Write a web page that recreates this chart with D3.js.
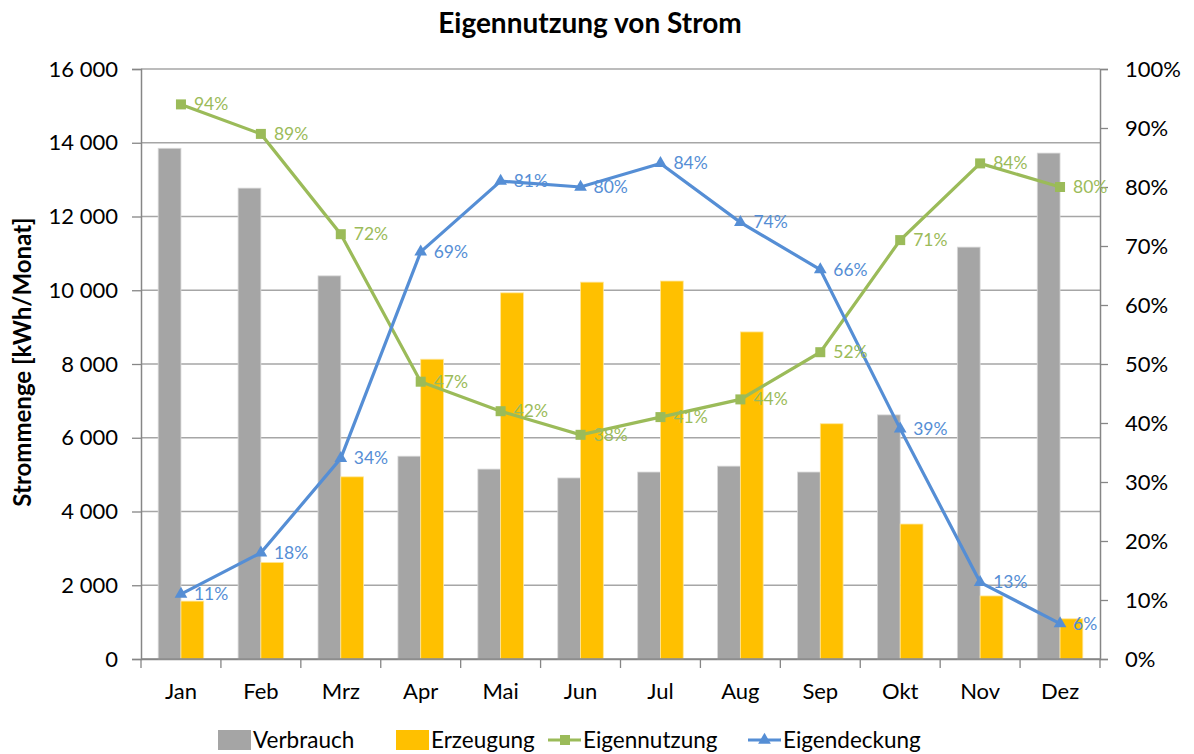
<!DOCTYPE html>
<html>
<head>
<meta charset="utf-8">
<script src="https://cdn.jsdelivr.net/npm/d3@7"></script>
<style>
  body { margin: 0; background: #fff; }
  svg { font-family: "Lato", "Open Sans", sans-serif; }
</style>
</head>
<body>
<svg id="chart" width="1194" height="754"></svg>
<script>
// chart data
var months = ["Jan", "Feb", "Mrz", "Apr", "Mai", "Jun", "Jul", "Aug", "Sep", "Okt", "Nov", "Dez"];
var verbrauch = [13850, 12770, 10390, 5500, 5150, 4910, 5070, 5230, 5070, 6620, 11170, 13720];
var erzeugung = [1570, 2620, 4940, 8130, 9930, 10220, 10250, 8870, 6380, 3660, 1710, 1090];
var eigennutzung = [94, 89, 72, 47, 42, 38, 41, 44, 52, 71, 84, 80];
var eigendeckung = [11, 18, 34, 69, 81, 80, 84, 74, 66, 39, 13, 6];
var leftTicks = [0, 2000, 4000, 6000, 8000, 10000, 12000, 14000, 16000];
var rightTicks = [0, 10, 20, 30, 40, 50, 60, 70, 80, 90, 100];

var colGrey = "#a5a5a5", colYellow = "#ffc000", colGreen = "#9bbb59", colBlue = "#558ed5";
var axisCol = "#868686";

var svg = d3.select("#chart");
var plotLeft = 141, plotRight = 1100, plotTop = 69, plotBottom = 659;

var x = d3.scaleBand().domain(months).range([plotLeft, plotRight]).padding(0);
var y = d3.scaleLinear().domain([0, 16000]).range([plotBottom, plotTop]);
var yp = d3.scaleLinear().domain([0, 100]).range([plotBottom, plotTop]);
var barW = x.bandwidth() * 0.285;

// title
svg.append("text").attr("x", 590).attr("y", 33).attr("text-anchor", "middle")
   .attr("font-size", 28).attr("font-weight", "bold").text("Eigennutzung von Strom");

// gridlines
svg.append("g").selectAll("line").data(leftTicks.slice(1)).enter().append("line")
   .attr("x1", plotLeft).attr("x2", plotRight)
   .attr("y1", d => y(d)).attr("y2", d => y(d))
   .attr("stroke", "#a6a6a6").attr("stroke-width", 1.3);

// left axis
var gL = svg.append("g").attr("transform", "translate(" + plotLeft + ",0)")
   .call(d3.axisLeft(y).tickValues(leftTicks).tickSize(9).tickPadding(14)
         .tickFormat(d => d3.format(",")(d).replace(",", " ")));
gL.selectAll("text").attr("font-size", 22).attr("fill", "#000");

// right axis
var gR = svg.append("g").attr("transform", "translate(" + plotRight + ",0)")
   .call(d3.axisRight(yp).tickValues(rightTicks).tickSize(8).tickPadding(17)
         .tickFormat(d => d + "%"));
gR.selectAll("text").attr("font-size", 22).attr("fill", "#000");

// bottom axis
var gB = svg.append("g").attr("transform", "translate(0," + plotBottom + ")")
   .call(d3.axisBottom(x).tickSize(0).tickPadding(24));
gB.selectAll("text").attr("font-size", 22).attr("fill", "#000");
gB.selectAll(".tick").append("line")
   .attr("x1", -x.bandwidth() / 2).attr("x2", -x.bandwidth() / 2)
   .attr("y1", 0).attr("y2", 9).attr("stroke", axisCol).attr("stroke-width", 1.3);
gB.append("line").attr("x1", plotRight).attr("x2", plotRight).attr("y1", 0).attr("y2", 9)
   .attr("stroke", axisCol).attr("stroke-width", 1.3);

[gL, gR, gB].forEach(function(g) {
    g.attr("font-family", null);
    g.select(".domain").attr("stroke", axisCol).attr("stroke-width", 1.5);
    g.selectAll(".tick line").attr("stroke", axisCol).attr("stroke-width", 1.3);
});

// bars
svg.append("g").selectAll("rect").data(verbrauch).enter().append("rect")
   .attr("x", (d, i) => x(months[i]) + x.bandwidth() / 2 - barW)
   .attr("y", d => y(d)).attr("width", barW).attr("height", d => plotBottom - y(d))
   .attr("fill", colGrey).attr("stroke", "#d9d9d9").attr("stroke-width", 0.8);
svg.append("g").selectAll("rect").data(erzeugung).enter().append("rect")
   .attr("x", (d, i) => x(months[i]) + x.bandwidth() / 2)
   .attr("y", d => y(d)).attr("width", barW).attr("height", d => plotBottom - y(d))
   .attr("fill", colYellow).attr("stroke", "#ffe699").attr("stroke-width", 0.8);

// redraw zero line over bars
svg.append("line").attr("x1", plotLeft).attr("x2", plotRight).attr("y1", plotBottom).attr("y2", plotBottom)
   .attr("stroke", axisCol).attr("stroke-width", 1.5);

function cx(i) { return x(months[i]) + x.bandwidth() / 2; }

var line = d3.line().x((d, i) => cx(i)).y(d => yp(d));

// Eigennutzung line
svg.append("path").datum(eigennutzung).attr("d", line)
   .attr("fill", "none").attr("stroke", colGreen).attr("stroke-width", 3.2);
svg.append("g").selectAll("rect").data(eigennutzung).enter().append("rect")
   .attr("x", (d, i) => cx(i) - 5).attr("y", d => yp(d) - 5)
   .attr("width", 10).attr("height", 10).attr("fill", colGreen);

// Eigendeckung line
svg.append("path").datum(eigendeckung).attr("d", line)
   .attr("fill", "none").attr("stroke", colBlue).attr("stroke-width", 3.2);
svg.append("g").selectAll("path").data(eigendeckung).enter().append("path")
   .attr("d", d3.symbol().type(d3.symbolTriangle).size(70))
   .attr("transform", (d, i) => "translate(" + cx(i) + "," + yp(d) + ")")
   .attr("fill", colBlue);

// data labels
svg.append("g").selectAll("text").data(eigennutzung).enter().append("text")
   .attr("x", (d, i) => cx(i) + 13).attr("y", d => yp(d) + 6)
   .attr("font-size", 17.5).attr("fill", colGreen).text(d => d + "%");
svg.append("g").selectAll("text").data(eigendeckung).enter().append("text")
   .attr("x", (d, i) => cx(i) + 13).attr("y", d => yp(d) + 6)
   .attr("font-size", 17.5).attr("fill", colBlue).text(d => d + "%");

// y axis title
svg.append("text").attr("transform", "translate(31,362) rotate(-90)")
   .attr("text-anchor", "middle").attr("font-size", 24).attr("font-weight", "bold")
   .text("Strommenge [kWh/Monat]");

// legend
var legend = [
    {name: "Verbrauch", type: "bar", color: colGrey, x: 218},
    {name: "Erzeugung", type: "bar", color: colYellow, x: 396},
    {name: "Eigennutzung", type: "square", color: colGreen, x: 548},
    {name: "Eigendeckung", type: "triangle", color: colBlue, x: 748}
];
var lg = svg.append("g").selectAll("g").data(legend).enter().append("g")
   .attr("transform", d => "translate(" + d.x + ",740)");
lg.each(function(d) {
    var g = d3.select(this);
    if (d.type == "bar") {
        g.append("rect").attr("x", 0).attr("y", -10).attr("width", 33).attr("height", 20).attr("fill", d.color);
    } else {
        g.append("line").attr("x1", 0).attr("x2", 33).attr("y1", 0).attr("y2", 0)
         .attr("stroke", d.color).attr("stroke-width", 3.2);
        if (d.type == "square") {
            g.append("rect").attr("x", 12).attr("y", -5).attr("width", 10).attr("height", 10).attr("fill", d.color);
        } else {
            g.append("path").attr("d", d3.symbol().type(d3.symbolTriangle).size(70))
             .attr("transform", "translate(16.5,0)").attr("fill", d.color);
        }
    }
    g.append("text").attr("x", 35).attr("y", 8).attr("font-size", 22.5).text(d.name);
});
</script>
</body>
</html>
